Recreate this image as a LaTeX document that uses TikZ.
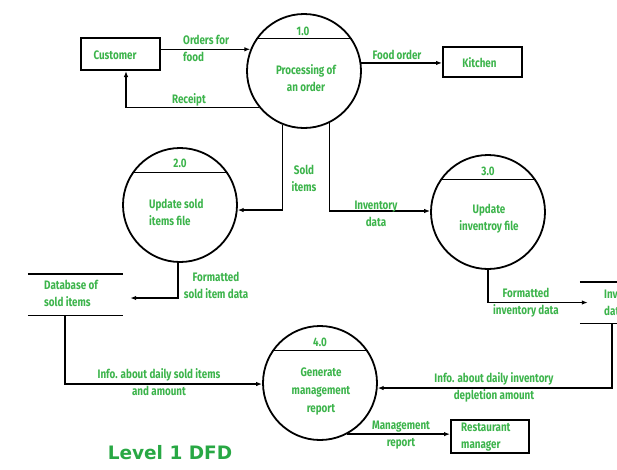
\documentclass[tikz,border=0pt]{standalone}
\usepackage{fontspec}
\setmainfont{Fira Sans}[FakeStretch=0.8]
\newfontfamily\titlefont{DejaVu Sans}
\usetikzlibrary{arrows.meta}
\definecolor{lbl}{RGB}{60,180,75}
\definecolor{ttl}{RGB}{40,168,68}
\begin{document}
\begin{tikzpicture}[x=1pt,y=-1pt,
  proc/.style={circle,draw,line width=1.8pt,minimum size=114pt,inner sep=0pt},
  ent/.style={draw,line width=2pt,inner sep=0pt},
  txt/.style={text=lbl,font=\bfseries\fontsize{12.3}{17}\selectfont,inner sep=0pt,align=center},
  ltxt/.style={txt,align=left},
  flow/.style={line width=1.3pt,-{Latex[length=6pt,width=4.5pt]}},
  chord/.style={line width=1.4pt},
  store/.style={inner sep=0pt}
]
\useasboundingbox (0,0) rectangle (617,469);
\fill[white] (0,0) rectangle (617,469);
\clip (0,0) rectangle (617,469);

% external entities
\node[ent,minimum width=79pt,minimum height=32pt] (cust) at (120.5,54) {};
\node[txt] (custt) at (115,55) {Customer};
\node[ent,minimum width=79pt,minimum height=30pt] (kit) at (482.5,62) {};
\node[txt] (kitt) at (479.5,63) {Kitchen};
\node[ent,minimum width=78pt,minimum height=33pt] (mgr) at (490,436.5) {};
\node[ltxt,anchor=west] (mgrt) at (461,437) {Restaurant\\manager};

% processes
\node[proc] (p1) at (304,71) {};
\draw[chord] (p1.146) -- (p1.34);
\node[txt] (n1) at (303,31) {1.0};
\node[txt] (t1) at (306,78) {Processing of\\an order};

\node[proc] (p2) at (180,205) {};
\draw[chord] (p2.146) -- (p2.34);
\node[txt] (n2) at (180,163) {2.0};
\node[ltxt,anchor=west] (t2) at (149,212) {Update sold\\items file};

\node[proc] (p3) at (488,212) {};
\draw[chord] (p3.146) -- (p3.34);
\node[txt] (n3) at (488,171) {3.0};
\node[txt] (t3) at (489,219) {Update\\inventroy file};

\node[proc] (p4) at (320,383) {};
\draw[chord] (p4.146) -- (p4.34);
\node[txt] (n4) at (320,342) {4.0};
\node[txt,font=\bfseries\fontsize{12.3}{18}\selectfont] (t4) at (321,391) {Generate\\management\\report};

% data stores
\node[store,minimum width=95pt,minimum height=41pt] (db) at (75.5,294.5) {};
\draw[chord] (db.north west) -- (db.north east);
\draw[chord] (db.south west) -- (db.south east);
\node[ltxt,anchor=west] (dbt) at (44,293.5) {Database of\\sold items};

\node[store,minimum width=60pt,minimum height=41pt] (inv) at (610,302.5) {};
\draw[chord] (inv.north west) -- (inv.north east);
\draw[chord] (inv.south west) -- (inv.south east);
\node[ltxt,anchor=west] (invt) at (604,302.5) {Inventory\\data};

% flows
\draw[flow] (cust.east |- p1.158) -- (p1.158);
\node[ltxt,anchor=west] (l1) at (183,48.5) {Orders for\\food};

\draw[flow] (p1.219) -| ([xshift=5.5pt]cust.south);
\node[txt] (l2) at (189,100) {Receipt};

\draw[flow] (p1.8) -- (kit.west |- p1.8);
\node[txt] (l3) at (397,55) {Food order};

\draw[flow] (p1.248) |- (p2.355);
\node[txt] (l4) at (304,178) {Sold\\items};

\draw[flow] (p1.296) |- (p3.179);
\node[txt] (l5) at (376,213.5) {Inventory\\data};

\draw[flow] (p2.268) |- ([xshift=7pt,yshift=-3.5pt]db.east);
\node[txt] (l6) at (216,285) {Formatted\\sold item data};

\draw[flow] (p3.south) |- ([xshift=8pt]inv.west);
\node[txt] (l7) at (526,303) {Formatted\\inventory data};

\draw[flow] ([xshift=-10.5pt]db.south) |- (p4.181);
\node[txt] (l8) at (159,382.5) {Info. about daily sold items\\and amount};

\draw[flow] ([xshift=2pt]inv.south) |- (p4.355);
\node[txt] (l9) at (494,387.5) {Info. about daily inventory\\depletion amount};

\draw[flow] (p4.298) -- (mgr.west |- p4.298);
\node[txt] (l10) at (401,435.5) {Management\\report};

\node[text=ttl,font=\titlefont\bfseries\fontsize{18.5}{20}\selectfont,inner sep=0pt] (title) at (170,453) {Level 1 DFD};
\end{tikzpicture}
\end{document}
